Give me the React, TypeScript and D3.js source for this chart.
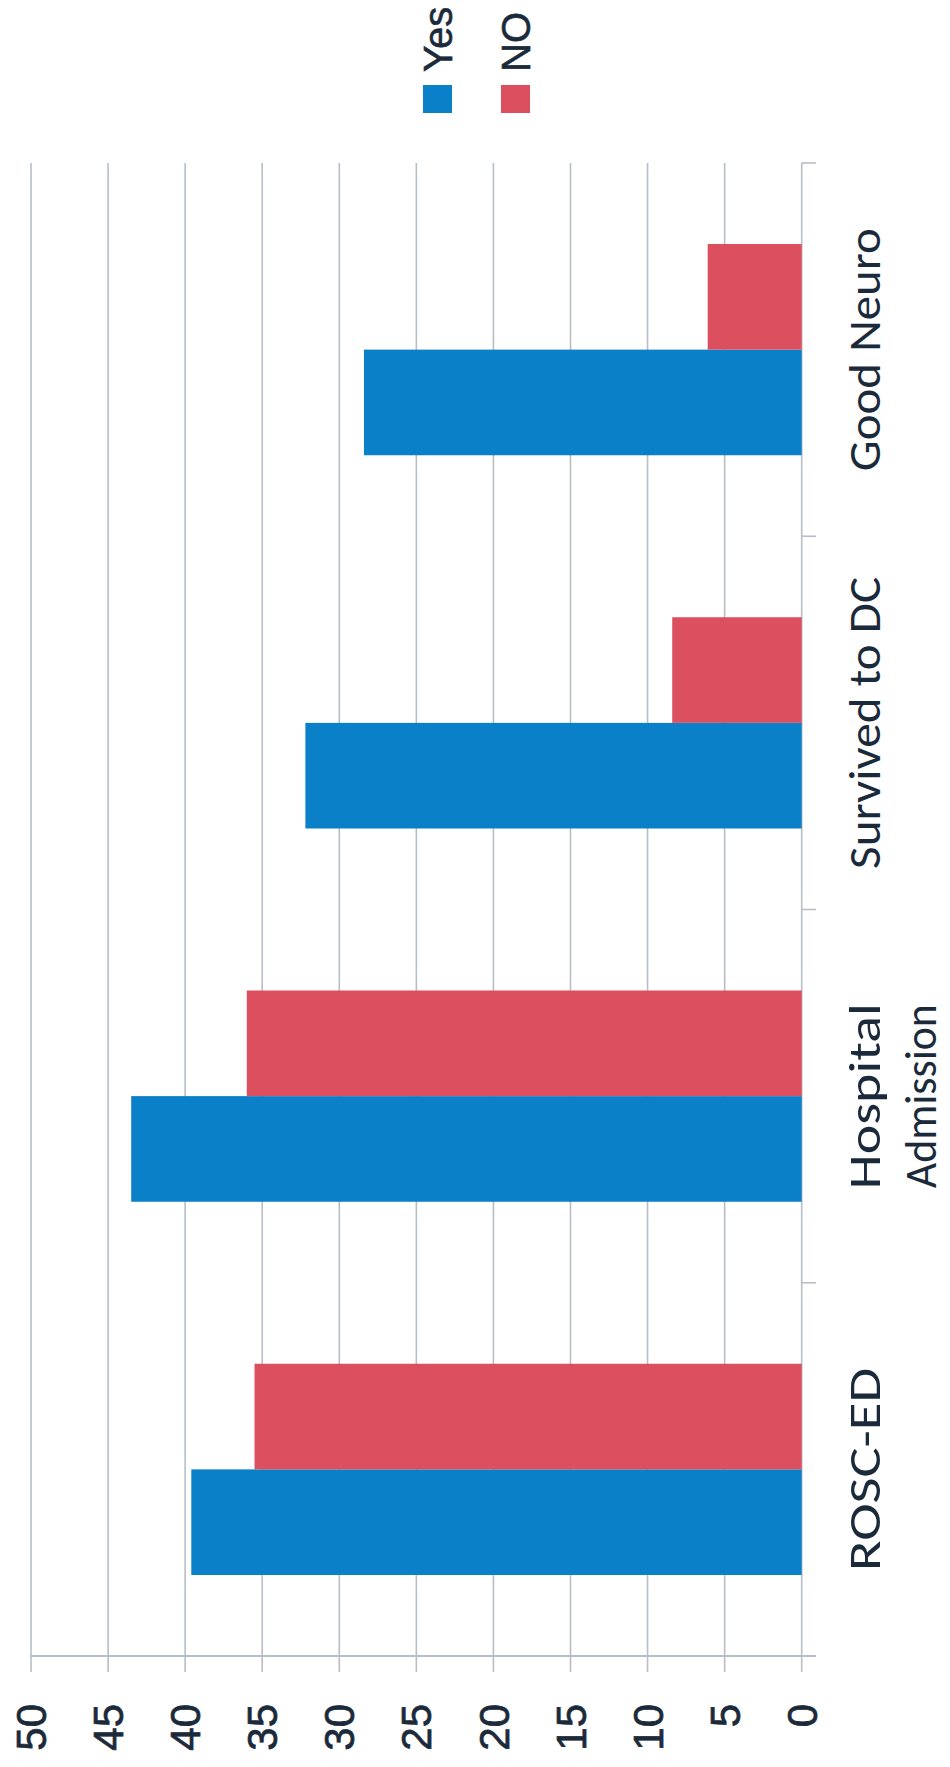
import React from 'react';
import * as d3 from 'd3';

const categories = ['ROSC-ED', 'Hospital Admission', 'Survived to DC', 'Good Neuro'];
const categoryLines = [['ROSC-ED'], ['Hospital', 'Admission'], ['Survived to DC'], ['Good Neuro']];
const series = ['Yes', 'NO'];
const yesValues = [39.6, 43.5, 32.2, 28.4];
const noValues = [35.5, 36.0, 8.4, 6.1];
const valueTicks = [0, 5, 10, 15, 20, 25, 30, 35, 40, 45, 50];

const colors: Record<string, string> = { Yes: '#0a80c8', NO: '#dc4f5e' };
const textColor = '#1b2a3b';
const gridColor = '#b7bec6';

// label lengths as measured on the reference (condensed Calibri-like face)
const labelLengths: Record<string, number> = {
  'ROSC-ED': 203, 'Hospital': 186, 'Admission': 184, 'Survived to DC': 292, 'Good Neuro': 243,
};

// the chart is drawn as a normal column chart, then turned a quarter turn
const PAGE_W = 950;
const PAGE_H = 1767;

export default function App() {
  const x = d3.scaleBand<string>()
    .domain(categories)
    .range([111, 1604])
    .paddingInner(0.434)
    .paddingOuter(0.217);

  const xSub = d3.scaleBand<string>()
    .domain(series)
    .range([0, x.bandwidth()]);

  const y = d3.scaleLinear().domain([0, 50]).range([801.7, 31]);

  const step = x.step();
  const bandEdges = d3.range(categories.length + 1).map(i => 111 + i * step);

  const rows = categories.map((c, i) => ({ c, Yes: yesValues[i], NO: noValues[i], lines: categoryLines[i] }));

  const font = '"Liberation Sans", Arial, sans-serif';
  const catFont = 'Carlito, Calibri, Lato, sans-serif';

  return (
    <svg width={PAGE_W} height={PAGE_H} style={{ display: 'block', background: '#fff' }}>
      <style>{'body{margin:0}'}</style>
      <g transform={`translate(0,${PAGE_H}) rotate(-90)`}>
        {/* gridlines + ticks on value axis */}
        {valueTicks.map(t => (
          <line key={`g${t}`} x1={95} x2={1604} y1={y(t)} y2={y(t)}
            stroke={gridColor} strokeWidth={1.6} />
        ))}
        {/* value axis line */}
        <line x1={111} x2={111} y1={y(50)} y2={816} stroke={gridColor} strokeWidth={2} />
        {/* category ticks */}
        {bandEdges.map((u, i) => (
          <line key={`ct${i}`} x1={u} x2={u} y1={y(0)} y2={816} stroke={gridColor} strokeWidth={1.6} />
        ))}

        {/* bars */}
        {rows.map(r => (
          <g key={r.c} transform={`translate(${x(r.c)},0)`}>
            {series.map(s => (
              <rect key={s}
                x={xSub(s)}
                y={y((r as any)[s])}
                width={xSub.bandwidth()}
                height={y(0) - y((r as any)[s])}
                fill={colors[s]} />
            ))}
          </g>
        ))}

        {/* value tick labels */}
        {valueTicks.map(t => (
          <text key={`l${t}`} x={63} y={y(t)} dy="0.36em" textAnchor="end"
            fontFamily={font} fontSize={42} fill={textColor}
            stroke={textColor} strokeWidth={0.7}>{t}</text>
        ))}

        {/* category labels */}
        {rows.map(r => (
          r.lines.map((ln, j) => (
            <text key={`c${ln}`} textAnchor="middle" fontFamily={catFont} fontSize={45} fill={textColor}
              x={(x(r.c) as number) + x.bandwidth() / 2} y={880 + j * 56}
              textLength={labelLengths[ln]} lengthAdjust="spacingAndGlyphs">{ln}</text>
          ))
        ))}

        {/* legend */}
        {series.map((s, i) => (
          <g key={`lg${s}`} transform={`translate(1654,${423 + i * 78})`}>
            <rect x={0} y={0} width={28} height={29} fill={colors[s]} />
            <text x={41} y={29} fontFamily={font} fontSize={40} fill={textColor}
              stroke={textColor} strokeWidth={0.6}>{s}</text>
          </g>
        ))}
      </g>
    </svg>
  );
}
